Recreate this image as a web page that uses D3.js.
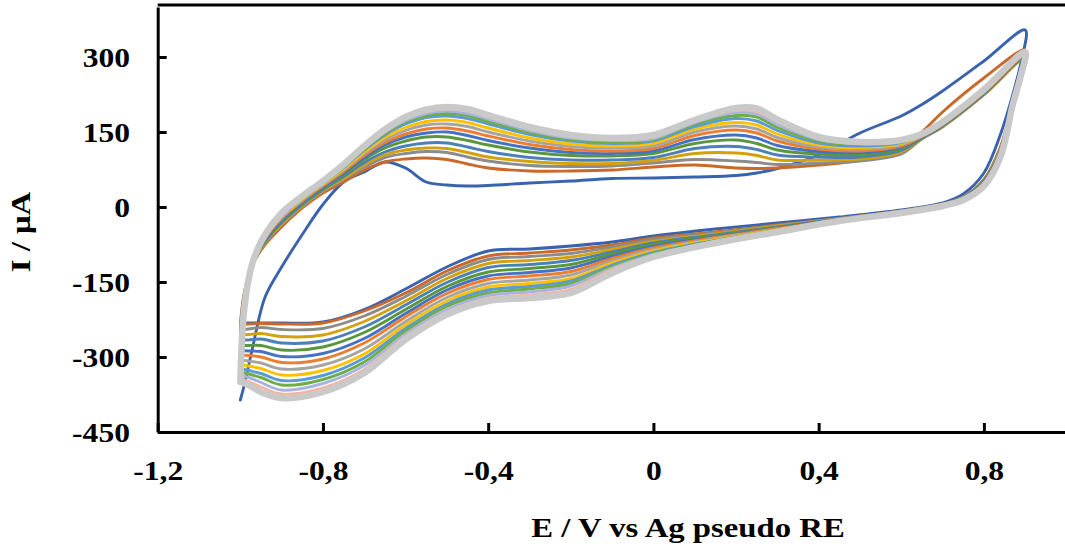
<!DOCTYPE html>
<html>
<head>
<meta charset="utf-8">
<script src="https://cdn.jsdelivr.net/npm/d3@7/dist/d3.min.js"></script>
<style>
    body { margin: 0; background: #fff; }
    text { font-family: "Liberation Serif", "Times New Roman", serif; font-weight: bold; fill: #000; }
</style>
</head>
<body>
<svg id="chart" width="1065" height="552"></svg>
<script>

// Potential grid (V): anodic sweep, then cathodic sweep back
var forwardE = [-1.0, -0.99, -0.97, -0.94, -0.9, -0.85, -0.8, -0.75, -0.7, -0.65, -0.6, -0.55, -0.5, -0.45, -0.4,
    -0.3, -0.2, -0.1, 0, 0.1, 0.2, 0.25, 0.3, 0.4, 0.5, 0.6, 0.65, 0.7, 0.8, 0.9];
var reverseE = [0.89, 0.87, 0.84, 0.8, 0.75, 0.7, 0.6, 0.45, 0.3, 0.15, 0, -0.1, -0.2, -0.3, -0.4, -0.5,
    -0.6, -0.7, -0.8, -0.9, -0.95, -0.98, -1.0];

// Current (uA) of each cycle on that grid
var cycle1 = [-386, -355, -280, -180, -120, -55, 5, 50, 70, 90, 78, 50, 44, 42, 43, 48, 52, 57, 58, 60, 63, 68, 77, 104, 148, 182, 205, 232, 292, 354,
    290, 225, 145, 68, 26, 8, -6, -20, -32, -44, -58, -70, -78, -84, -88, -120, -164, -205, -230, -232, -232, -232, -232];
var cycle2 = [-236, -170, -115, -75, -40, -2, 28, 50, 74, 90, 96, 98, 95, 86, 78, 72, 72, 74, 80, 84, 78, 77, 78, 84, 94, 120, 150, 190, 258, 314,
    270, 210, 120, 55, 20, 6, -8, -23, -36, -50, -62, -76, -86, -92, -98, -128, -172, -208, -232, -234, -233, -234, -236];
var cycle3 = [-246, -172, -114, -72, -36, 1, 31, 55, 80, 99, 107, 111, 109, 100, 92, 83, 81, 82, 88, 95, 92, 89, 85, 88, 92, 106, 136, 160, 224, 298,
    255, 198, 116, 54, 20, 6, -8, -23, -37, -52, -65, -80, -93, -99, -105, -135, -179, -218, -243, -245, -241, -244, -246];
var cycle4 = [-256, -175, -114, -71, -34, 3, 33, 57, 84, 104, 114, 118, 117, 109, 100, 91, 87, 87, 93, 107, 108, 103, 94, 94, 96, 110, 137, 161, 225, 299,
    256, 199, 114, 53, 19, 5, -9, -24, -38, -54, -69, -85, -100, -107, -113, -143, -188, -229, -256, -259, -253, -255, -256];
var cycle5 = [-266, -178, -113, -69, -31, 5, 35, 61, 89, 110, 122, 128, 128, 120, 111, 99, 94, 94, 99, 117, 121, 115, 104, 100, 100, 113, 138, 162, 226, 300,
    257, 200, 112, 52, 19, 5, -9, -24, -40, -56, -72, -90, -107, -115, -121, -151, -196, -240, -268, -272, -264, -266, -266];
var cycle6 = [-277, -180, -113, -66, -28, 8, 38, 65, 95, 118, 132, 140, 140, 133, 124, 110, 103, 102, 107, 127, 134, 127, 114, 106, 105, 117, 139, 163, 227, 301,
    258, 200, 110, 50, 18, 5, -9, -25, -41, -58, -75, -94, -115, -123, -130, -159, -205, -251, -280, -286, -277, -277, -277];
var cycle7 = [-287, -183, -112, -65, -25, 10, 40, 68, 99, 124, 140, 148, 150, 143, 133, 118, 109, 107, 112, 135, 144, 138, 123, 111, 109, 120, 140, 164, 228, 302,
    259, 201, 109, 49, 18, 4, -10, -25, -42, -60, -79, -99, -122, -131, -138, -166, -213, -263, -293, -299, -289, -288, -287];
var cycle8 = [-296, -186, -112, -63, -23, 12, 42, 71, 103, 129, 146, 156, 158, 152, 142, 125, 115, 112, 117, 143, 154, 148, 132, 116, 112, 122, 141, 165, 229, 303,
    260, 201, 108, 48, 17, 4, -10, -26, -43, -61, -82, -103, -129, -138, -145, -173, -220, -272, -304, -311, -300, -297, -296];
var cycle9 = [-306, -188, -112, -61, -21, 14, 44, 74, 107, 134, 153, 164, 166, 161, 150, 132, 121, 118, 122, 150, 162, 156, 139, 120, 116, 125, 142, 166, 230, 304,
    261, 202, 106, 47, 17, 4, -10, -26, -45, -63, -85, -108, -136, -146, -153, -181, -229, -284, -316, -324, -312, -308, -306];
var cycle10 = [-315, -191, -111, -60, -19, 16, 46, 76, 110, 139, 159, 171, 174, 169, 158, 138, 126, 122, 127, 156, 169, 164, 146, 124, 119, 127, 143, 167, 231, 305,
    262, 202, 105, 46, 16, 3, -11, -26, -46, -65, -88, -112, -143, -153, -160, -188, -236, -294, -327, -336, -323, -318, -315];
var cycle11 = [-323, -193, -111, -58, -17, 18, 48, 79, 114, 144, 166, 179, 182, 177, 166, 145, 132, 127, 132, 161, 177, 172, 153, 128, 122, 129, 144, 168, 232, 306,
    263, 203, 104, 45, 16, 3, -11, -27, -47, -67, -91, -116, -148, -159, -166, -194, -243, -302, -337, -347, -333, -327, -323];
var cycle12 = [-330, -195, -111, -57, -15, 19, 49, 81, 116, 147, 170, 183, 187, 183, 171, 149, 135, 130, 135, 166, 183, 180, 159, 132, 125, 131, 145, 168, 233, 307,
    263, 203, 103, 44, 15, 3, -11, -27, -47, -68, -93, -119, -153, -164, -172, -199, -248, -310, -345, -356, -341, -334, -330];
var cycle13 = [-337, -196, -110, -57, -14, 20, 50, 82, 118, 150, 173, 187, 192, 187, 176, 153, 138, 133, 137, 169, 189, 186, 165, 135, 127, 132, 145, 169, 233, 308,
    264, 204, 102, 43, 15, 2, -12, -27, -48, -69, -95, -122, -158, -170, -177, -205, -254, -317, -353, -366, -351, -341, -337];
var cycle14 = [-343, -198, -110, -56, -13, 21, 51, 84, 120, 152, 177, 191, 196, 192, 180, 157, 141, 135, 140, 172, 193, 191, 170, 137, 128, 133, 146, 169, 234, 309,
    264, 204, 101, 43, 14, 2, -12, -28, -49, -71, -98, -125, -165, -176, -183, -210, -259, -325, -362, -374, -360, -349, -343];
var cycle15 = [-350, -200, -110, -55, -12, 22, 52, 85, 122, 155, 180, 195, 200, 196, 184, 160, 144, 138, 144, 174, 198, 197, 175, 140, 130, 134, 146, 170, 235, 310,
    265, 205, 100, 42, 14, 2, -12, -28, -50, -72, -100, -132, -172, -182, -188, -215, -265, -332, -370, -382, -370, -356, -350];

var cycles = [cycle1, cycle2, cycle3, cycle4, cycle5, cycle6, cycle7, cycle8, cycle9, cycle10,
    cycle11, cycle12, cycle13, cycle14, cycle15];
var colors = ["#3A63AD", "#C96A2A", "#8C8C8C", "#D4A10B", "#4C80B8", "#5A973C", "#4472C4", "#ED7D31",
    "#A5A5A5", "#FFC000", "#5B9BD5", "#70AD47", "#A6B5E0", "#F4B6A0", "#C9C9C9"];

var xTicks = [-1.2, -0.8, -0.4, 0, 0.4, 0.8];
var yTicks = [-450, -300, -150, 0, 150, 300];

var svg = d3.select("#chart");

var x = d3.scaleLinear().domain([-1.2, 1.0]).range([157.7, 1066.5]);
var y = d3.scaleLinear().domain([-450, 400]).range([432, 7]);

var potentials = forwardE.concat(reverseE);

var line = d3.line()
    .x(d => x(d[0]))
    .y(d => y(d[1]))
    .curve(d3.curveCatmullRom.alpha(0.5));

// draw the cycles in order, later ones on top
svg.append("g")
    .selectAll("path")
    .data(cycles)
    .join("path")
    .attr("fill", "none")
    .attr("stroke", (d, i) => colors[i])
    .attr("stroke-width", (d, i) => i === cycles.length - 1 ? 6.5 : 2.9)
    .attr("stroke-linejoin", "round")
    .attr("stroke-linecap", "round")
    .attr("d", d => line(potentials.map((e, i) => [e, d[i]])));

// top border of the plot area
svg.append("line")
    .attr("x1", 157.7).attr("x2", 1065)
    .attr("y1", 5).attr("y2", 5)
    .attr("stroke", "#000")
    .attr("stroke-width", 3);

var comma = d => String(d).replace(".", ",");

var xAxis = svg.append("g")
    .attr("transform", "translate(0," + y(-450) + ")")
    .call(d3.axisBottom(x).tickValues(xTicks).tickFormat(comma).tickSizeInner(-9).tickSizeOuter(0));

var yAxis = svg.append("g")
    .attr("transform", "translate(" + x(-1.2) + ",0)")
    .call(d3.axisLeft(y).tickValues(yTicks).tickFormat(d => String(d)).tickSizeInner(-9).tickSizeOuter(0));

[xAxis, yAxis].forEach(function(g) {
    g.select(".domain").attr("stroke", "#000").attr("stroke-width", 3);
    g.selectAll(".tick line").attr("stroke", "#000").attr("stroke-width", 3);
    g.selectAll(".tick text").attr("fill", "#000");
    g.attr("font-size", null).attr("font-family", null);
});

xAxis.selectAll(".tick text")
    .attr("y", 0).attr("dy", 0)
    .attr("text-anchor", "middle")
    .style("font-size", "27px")
    .attr("transform", "translate(0,48) scale(1.17,1)");

yAxis.selectAll(".tick text")
    .attr("x", 0).attr("dy", "0.34em")
    .attr("text-anchor", "end")
    .style("font-size", "27px")
    .attr("transform", "translate(" + (130 - x(-1.2)) + ",0) scale(1.17,1)");

// axis titles
svg.append("text")
    .attr("text-anchor", "middle")
    .style("font-size", "28px")
    .attr("transform", "translate(688,537) scale(1.17,1)")
    .text("E / V vs Ag pseudo RE");

svg.append("text")
    .attr("text-anchor", "middle")
    .style("font-size", "28px")
    .attr("transform", "translate(30,232) rotate(-90) scale(1.17,1)")
    .text("I / μA");

</script>
</body>
</html>
